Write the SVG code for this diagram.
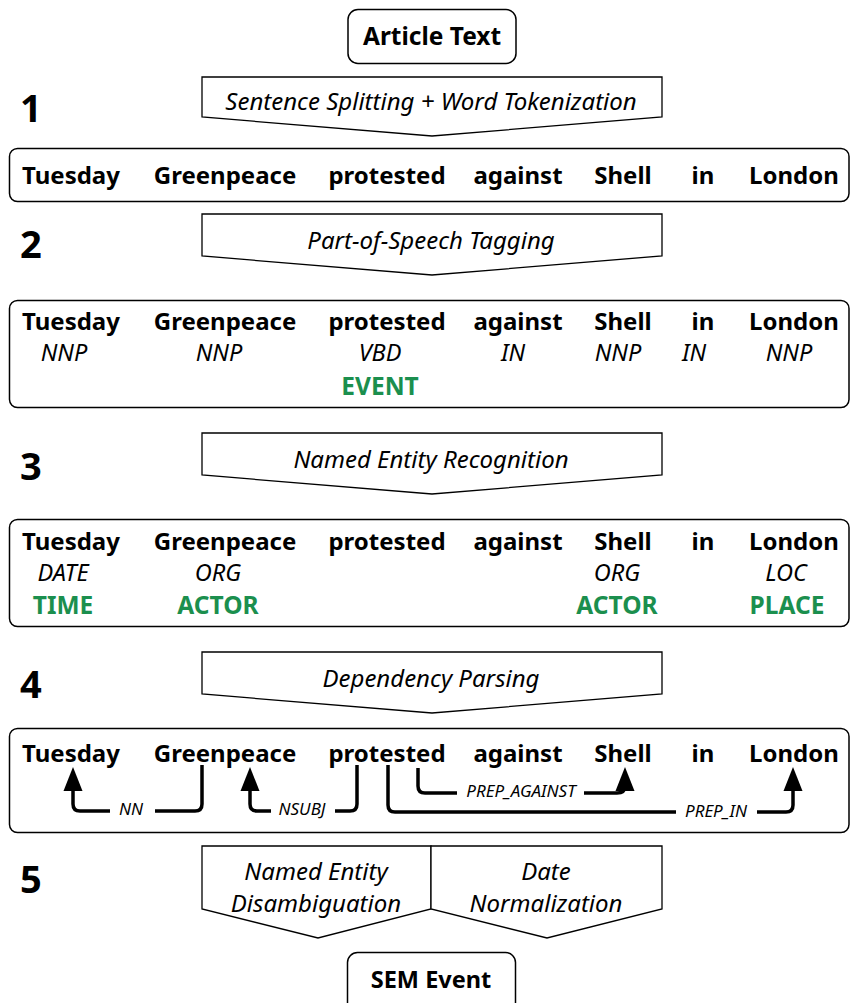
<svg xmlns="http://www.w3.org/2000/svg" width="851" height="1003" viewBox="0 0 851 1003">
<style>
text{font-family:"Noto Sans","Open Sans",sans-serif;fill:#000}
.w{font-size:24px;font-weight:bold;text-anchor:middle}
.t{font-size:23.5px;font-style:italic;text-anchor:middle}
.g{font-size:24.5px;font-weight:bold;fill:#1b8f4e;text-anchor:middle}
.n{font-size:38px;font-weight:bold}
.p{font-size:24px;font-style:italic;text-anchor:middle}
.d{font-size:17px;font-style:italic;text-anchor:middle}
.box{fill:#fff;stroke:#000;stroke-width:1.5}
.pent{fill:#fff;stroke:#000;stroke-width:1.3}
.dep{fill:none;stroke:#000;stroke-width:3.5;stroke-linejoin:round}
.ah{fill:#000}
</style>
<g id="article-text">
<rect class="box" x="348" y="9.5" width="168" height="54" rx="10"/>
<text class="w" x="432" y="45" style="font-size:24.5px">Article Text</text>
</g>
<g id="step1">
<text class="n" x="20" y="122">1</text>
<polygon class="pent" points="202,77 662,77 662,117 432,136 202,117"/>
<text class="p" x="431" y="110">Sentence Splitting + Word Tokenization</text>
</g>
<g id="row1">
<rect class="box" x="9.5" y="148.5" width="839.5" height="53" rx="8"/>
<text class="w" x="71" y="184">Tuesday</text>
<text class="w" x="225" y="184">Greenpeace</text>
<text class="w" x="387" y="184">protested</text>
<text class="w" x="518" y="184">against</text>
<text class="w" x="623" y="184">Shell</text>
<text class="w" x="703" y="184">in</text>
<text class="w" x="794" y="184">London</text>
</g>
<g id="step2">
<text class="n" x="20" y="258">2</text>
<polygon class="pent" points="202,214 662,214 662,256 432,275 202,256"/>
<text class="p" x="431" y="249">Part-of-Speech Tagging</text>
</g>
<g id="row2">
<rect class="box" x="9.5" y="300.5" width="839.5" height="107" rx="8"/>
<text class="w" x="71" y="330">Tuesday</text>
<text class="w" x="225" y="330">Greenpeace</text>
<text class="w" x="387" y="330">protested</text>
<text class="w" x="518" y="330">against</text>
<text class="w" x="623" y="330">Shell</text>
<text class="w" x="703" y="330">in</text>
<text class="w" x="794" y="330">London</text>
<text class="t" x="64" y="361">NNP</text>
<text class="t" x="219" y="361">NNP</text>
<text class="t" x="380" y="361">VBD</text>
<text class="t" x="513" y="361">IN</text>
<text class="t" x="618" y="361">NNP</text>
<text class="t" x="694" y="361">IN</text>
<text class="t" x="789" y="361">NNP</text>
<text class="g" x="380" y="395">EVENT</text>
</g>
<g id="step3">
<text class="n" x="20" y="480">3</text>
<polygon class="pent" points="202,433 662,433 662,475 432,494 202,475"/>
<text class="p" x="431" y="468">Named Entity Recognition</text>
</g>
<g id="row3">
<rect class="box" x="9.5" y="519.5" width="839.5" height="107" rx="8"/>
<text class="w" x="71" y="550">Tuesday</text>
<text class="w" x="225" y="550">Greenpeace</text>
<text class="w" x="387" y="550">protested</text>
<text class="w" x="518" y="550">against</text>
<text class="w" x="623" y="550">Shell</text>
<text class="w" x="703" y="550">in</text>
<text class="w" x="794" y="550">London</text>
<text class="t" x="63" y="581">DATE</text>
<text class="t" x="218" y="581">ORG</text>
<text class="t" x="617" y="581">ORG</text>
<text class="t" x="786" y="581">LOC</text>
<text class="g" x="63" y="614">TIME</text>
<text class="g" x="218" y="614">ACTOR</text>
<text class="g" x="617" y="614">ACTOR</text>
<text class="g" x="787" y="614">PLACE</text>
</g>
<g id="step4">
<text class="n" x="20" y="698">4</text>
<polygon class="pent" points="202,652 662,652 662,694 432,713 202,694"/>
<text class="p" x="431" y="687">Dependency Parsing</text>
</g>
<g id="row4">
<rect class="box" x="9.5" y="728.5" width="839.5" height="104" rx="8"/>
<text class="w" x="71" y="762">Tuesday</text>
<text class="w" x="225" y="762">Greenpeace</text>
<text class="w" x="387" y="762">protested</text>
<text class="w" x="518" y="762">against</text>
<text class="w" x="623" y="762">Shell</text>
<text class="w" x="703" y="762">in</text>
<text class="w" x="794" y="762">London</text>
</g>
<g id="connectors">
<path class="dep" d="M202,765 V804 Q202,811 195,811 H155 M110,811 H80 Q73,811 73,804 V788"/>
<polygon class="ah" points="73,767 63.5,791 82.5,791"/>
<text class="d" x="131" y="815">NN</text>
<path class="dep" d="M357,765 V804 Q357,811 350,811 H335 M271,811 H257 Q250,811 250,804 V788"/>
<polygon class="ah" points="250,767 240.5,791 259.5,791"/>
<text class="d" x="302" y="815">NSUBJ</text>
<path class="dep" d="M418,768 V786 Q418,793 425,793 H457 M584,793 H617 Q625,793 625,786 V788"/>
<polygon class="ah" points="625,767 615.5,791 634.5,791"/>
<text class="d" x="521" y="797">PREP_AGAINST</text>
<path class="dep" d="M388,765 V805 Q388,812 395,812 H676 M757,812 H786 Q793,812 793,805 V788"/>
<polygon class="ah" points="793,767 783.5,791 802.5,791"/>
<text class="d" x="716" y="817">PREP_IN</text>
</g>
<g id="step5">
<text class="n" x="20" y="893">5</text>
<polygon class="pent" points="202,846 431,846 431,909 318,938 202,909"/>
<polygon class="pent" points="431,846 662,846 662,909 547,938 431,909"/>
<text class="p" x="316" y="880">Named Entity</text>
<text class="p" x="316" y="912">Disambiguation</text>
<text class="p" x="546" y="880">Date</text>
<text class="p" x="546" y="912">Normalization</text>
</g>
<g id="sem-event">
<rect class="box" x="347.5" y="952.5" width="168" height="60" rx="10"/>
<text class="w" x="431" y="988" style="font-size:23.5px">SEM Event</text>
</g>
</svg>
